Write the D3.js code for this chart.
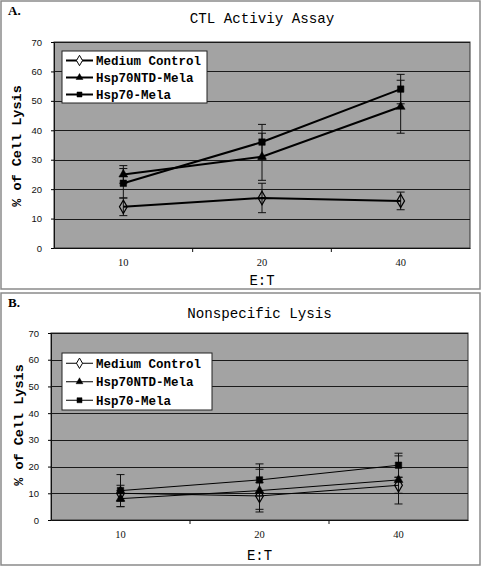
<!DOCTYPE html>
<html><head><meta charset="utf-8">
<script src="https://cdn.jsdelivr.net/npm/d3@7"></script>
<style>body{margin:0;background:#fff}svg{display:block}</style>
</head><body>
<script>
const categories = ["10", "20", "40"];
const seriesNames = ["Medium Control", "Hsp70NTD-Mela", "Hsp70-Mela"];
const yTicks = [0, 10, 20, 30, 40, 50, 60, 70];
// Panel A: CTL activity
const ctlMedium = [14, 17, 16];
const ctlNTD = [25, 31, 48];
const ctlHsp = [22, 36, 54];
const ctlMediumErr = [3, 5, 3];
const ctlNTDErr = [3, 8, 9];
const ctlHspErr = [5, 6, 5];
// Panel B: nonspecific lysis
const nsMedium = [10, 9, 13];
const nsNTD = [8, 11, 15];
const nsHsp = [11, 15, 20.5];
const nsMediumErr = [3, 5, 3];
const nsNTDErr = [3, 8, 9];
const nsHspErr = [6, 6, 4.5];

const W = 482, H = 567;
const svg = d3.select("body").append("svg").attr("width", W).attr("height", H);

function drawPanel(o) {
  const g = svg.append("g");
  g.append("rect").attr("x", o.fx).attr("y", o.fy).attr("width", o.fw).attr("height", o.fh)
    .attr("fill", "#fff").attr("stroke", "#8a8a8a").attr("stroke-width", 1.5);
  g.append("text").attr("x", o.fx + 7).attr("y", o.fy + 14).text(o.letter)
    .attr("font-family", "Liberation Serif").attr("font-weight", "bold").attr("font-size", 13);
  g.append("text").attr("x", (o.L + o.R) / 2).attr("y", o.titleY).attr("text-anchor", "middle")
    .text(o.title).attr("font-family", "Liberation Mono").attr("font-size", 14.2);

  const x = d3.scaleBand().domain(categories).range([o.L, o.R]);
  const y = d3.scaleLinear().domain([0, 70]).range([o.B, o.T]);

  g.append("rect").attr("x", o.L).attr("y", o.T).attr("width", o.R - o.L).attr("height", o.B - o.T)
    .attr("fill", "#a3a3a3").attr("stroke", "#333").attr("stroke-width", 1);
  g.selectAll(".grid").data(yTicks.slice(1)).join("line")
    .attr("x1", o.L).attr("x2", o.R).attr("y1", d => Math.round(y(d)) + 0.5).attr("y2", d => Math.round(y(d)) + 0.5)
    .attr("stroke", "#1a1a1a").attr("stroke-width", 1);

  const ya = g.append("g").attr("transform", `translate(${o.L},0)`)
    .call(d3.axisLeft(y).tickValues(yTicks).tickSize(3).tickPadding(9));
  ya.select(".domain").attr("stroke", "#111");
  ya.selectAll("text").attr("font-family", "Liberation Sans").attr("font-size", 9.5).attr("fill", "#111");
  const xa = g.append("g").attr("transform", `translate(0,${o.B})`)
    .call(d3.axisBottom(x).tickSize(0).tickPadding(o.xPad));
  xa.select(".domain").attr("stroke", "#111");
  xa.selectAll("text").attr("font-family", "Liberation Serif").attr("font-size", 10.5).attr("fill", "#111");
  g.selectAll(".xt").data(categories.slice(1)).join("line")
    .attr("x1", d => x(d)).attr("x2", d => x(d)).attr("y1", o.B).attr("y2", o.B + 4).attr("stroke", "#111");

  g.append("text").attr("x", (o.L + o.R) / 2).attr("y", o.xLabY).attr("text-anchor", "middle")
    .text("E:T").attr("font-family", "Liberation Mono").attr("font-size", 14);
  g.append("text").attr("transform", `translate(${o.yLabX},${o.yLabCY}) rotate(-90)`).attr("text-anchor", "middle")
    .text("% of Cell Lysis").attr("font-family", "Liberation Mono").attr("font-weight", "bold").attr("font-size", 13.5);

  const line = d3.line().x((d, i) => x.bandwidth() / 2 + x(categories[i])).y(d => y(d));
  const cx = i => x(categories[i]) + x.bandwidth() / 2;
  const order = [0, 1, 2];
  order.forEach(s => {
    const vals = o.values[s], errs = o.errs[s];
    vals.forEach((v, i) => {
      const lo = v - errs[i], hi = v + errs[i];
      g.append("line").attr("x1", cx(i)).attr("x2", cx(i)).attr("y1", y(lo)).attr("y2", y(hi)).attr("stroke", "#111").attr("stroke-width", 1);
      [lo, hi].forEach(e => g.append("line").attr("x1", cx(i) - 4).attr("x2", cx(i) + 4)
        .attr("y1", y(e)).attr("y2", y(e)).attr("stroke", "#111").attr("stroke-width", 1));
    });
  });
  order.forEach(s => {
    g.append("path").datum(o.values[s]).attr("d", line).attr("fill", "none")
      .attr("stroke", "#000").attr("stroke-width", o.lw);
  });
  const sym = [d3.symbolDiamond, d3.symbolTriangle, d3.symbolSquare];
  const symSize = [52, 34, 42];
  order.forEach(s => {
    g.selectAll(null).data(o.values[s]).join("path")
      .attr("transform", (d, i) => `translate(${cx(i)},${y(d)})`)
      .attr("d", d3.symbol().type(sym[s]).size(symSize[s]))
      .attr("fill", s === 0 ? "none" : "#000").attr("stroke", "#000").attr("stroke-width", s === 0 ? 1.2 : 0.5);
  });

  const lg = g.append("g");
  lg.append("rect").attr("x", o.lx).attr("y", o.ly).attr("width", o.lw2).attr("height", o.lh)
    .attr("fill", "#fff").attr("stroke", "#222").attr("stroke-width", 1);
  seriesNames.forEach((n, s) => {
    const yy = o.ly + o.lstep * (s + 0.5) + 1;
    lg.append("line").attr("x1", o.lx + 4).attr("x2", o.lx + 31).attr("y1", yy).attr("y2", yy)
      .attr("stroke", "#000").attr("stroke-width", o.lw);
    lg.append("path").attr("transform", `translate(${o.lx + 17.5},${yy})`)
      .attr("d", d3.symbol().type(sym[s]).size(symSize[s] * 0.6))
      .attr("fill", s === 0 ? "#fff" : "#000").attr("stroke", "#000").attr("stroke-width", s === 0 ? 1 : 0.5);
    lg.append("text").attr("x", o.lx + 34).attr("y", yy + 4.5).text(n)
      .attr("font-family", "Liberation Mono").attr("font-weight", "bold").attr("font-size", 12.5);
  });
}

drawPanel({
  letter: "A.", title: "CTL Activiy Assay", fx: 1, fy: 1, fw: 479, fh: 288,
  titleY: 23, L: 54, R: 470, T: 42, B: 248, xPad: 11, xLabY: 285, yLabX: 21, yLabCY: 146,
  values: [ctlMedium, ctlNTD, ctlHsp], errs: [ctlMediumErr, ctlNTDErr, ctlHspErr], lw: 2,
  lx: 62, ly: 51, lw2: 145, lh: 52, lstep: 17
});
drawPanel({
  letter: "B.", title: "Nonspecific Lysis", fx: 1, fy: 293, fw: 479, fh: 272,
  titleY: 318, L: 51, R: 468, T: 333, B: 520, xPad: 11, xLabY: 560, yLabX: 23, yLabCY: 425,
  values: [nsMedium, nsNTD, nsHsp], errs: [nsMediumErr, nsNTDErr, nsHspErr], lw: 1,
  lx: 62, ly: 353, lw2: 150, lh: 57, lstep: 18.5
});
</script>
</body></html>
